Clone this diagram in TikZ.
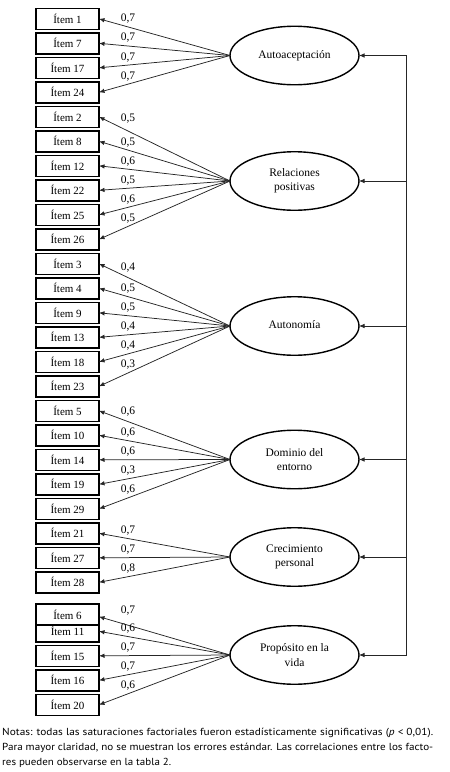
\documentclass[tikz,border=0pt]{standalone}
\usepackage{fontspec}
\setmainfont{Liberation Serif}
\newfontfamily\notefont{PT Sans}
\usetikzlibrary{shapes.geometric,arrows.meta}
\begin{document}
\begin{tikzpicture}[x=1pt,y=-1pt,
  itembox/.style={draw, line width=1.6pt, minimum width=63pt, minimum height=21pt,
    inner sep=0pt, outer sep=0pt, fill=white, font=\fontsize{11}{13}\selectfont},
  factor/.style={ellipse, draw, line width=1.4pt, minimum width=129pt, minimum height=58.5pt,
    inner sep=0pt, outer sep=0pt, align=center, font=\fontsize{11.5}{14.4}\selectfont},
  load/.style={draw=black!85, line width=0.75pt, -{Latex[length=5.5pt,width=4.5pt]}},
  lbl/.style={pos=0.779, yshift=8pt, inner sep=0pt, font=\fontsize{11.5}{13}\selectfont},
  corr/.style={draw=black!85, line width=0.75pt},
  notetext/.style={anchor=base west, inner sep=0pt, font=\notefont\fontsize{10.2}{15}\selectfont}]
\useasboundingbox (0,0) rectangle (450,772);

% items
\node[itembox] (i1)  at (67.5,18.8)  {Ítem 1};
\node[itembox] (i7)  at (67.5,43.3)  {Ítem 7};
\node[itembox] (i17) at (67.5,67.8)  {Ítem 17};
\node[itembox] (i24) at (67.5,92.3)  {Ítem 24};
\node[itembox] (i2)  at (67.5,116.8) {Ítem 2};
\node[itembox] (i8)  at (67.5,141.3) {Ítem 8};
\node[itembox] (i12) at (67.5,165.8) {Ítem 12};
\node[itembox] (i22) at (67.5,190.3) {Ítem 22};
\node[itembox] (i25) at (67.5,214.8) {Ítem 25};
\node[itembox] (i26) at (67.5,239.3) {Ítem 26};
\node[itembox] (i3)  at (67.5,263.8) {Ítem 3};
\node[itembox] (i4)  at (67.5,288.3) {Ítem 4};
\node[itembox] (i9)  at (67.5,312.8) {Ítem 9};
\node[itembox] (i13) at (67.5,337.3) {Ítem 13};
\node[itembox] (i18) at (67.5,361.8) {Ítem 18};
\node[itembox] (i23) at (67.5,386.3) {Ítem 23};
\node[itembox] (i5)  at (67.5,410.8) {Ítem 5};
\node[itembox] (i10) at (67.5,435.3) {Ítem 10};
\node[itembox] (i14) at (67.5,459.8) {Ítem 14};
\node[itembox] (i19) at (67.5,484.3) {Ítem 19};
\node[itembox] (i29) at (67.5,508.8) {Ítem 29};
\node[itembox] (i21) at (67.5,533.3) {Ítem 21};
\node[itembox] (i27) at (67.5,557.8) {Ítem 27};
\node[itembox] (i28) at (67.5,582.3) {Ítem 28};
\node[itembox] (i11) at (67.5,631.3) {Ítem 11};
\node[itembox] (i6)  at (67.5,614.7) {Ítem 6};
\node[itembox] (i15) at (67.5,655.8) {Ítem 15};
\node[itembox] (i16) at (67.5,680.3) {Ítem 16};
\node[itembox] (i20) at (67.5,704.8) {Ítem 20};

% factors
\node[factor] (f1) at (294.5,55.5) {\raisebox{3pt}{Autoaceptación}};
\node[factor] (f2) at (294.5,181)  {Relaciones\\positivas};
\node[factor] (f3) at (294.5,326)  {\raisebox{3pt}{Autonomía}};
\node[factor] (f4) at (294.5,459.5) {Dominio del\\entorno};
\node[factor] (f5) at (294.5,557)  {Crecimiento\\personal};
\node[factor] (f6) at (294.5,655)  {Propósito en la\\vida};

% loadings
\draw[load] (f1.west) -- node[lbl] {0,7} (i1.east);
\draw[load] (f1.west) -- node[lbl] {0,7} (i7.east);
\draw[load] (f1.west) -- node[lbl] {0,7} (i17.east);
\draw[load] (f1.west) -- node[lbl] {0,7} (i24.east);

\draw[load] (f2.west) -- node[lbl, yshift=4pt] {0,5} (i2.east);
\draw[load] (f2.west) -- node[lbl] {0,5} (i8.east);
\draw[load] (f2.west) -- node[lbl] {0,6} (i12.east);
\draw[load] (f2.west) -- node[lbl] {0,5} (i22.east);
\draw[load] (f2.west) -- node[lbl] {0,6} (i25.east);
\draw[load] (f2.west) -- node[lbl] {0,5} (i26.east);

\draw[load] (f3.west) -- node[lbl, yshift=2pt] {0,4} (i3.east);
\draw[load] (f3.west) -- node[lbl] {0,5} (i4.east);
\draw[load] (f3.west) -- node[lbl] {0,5} (i9.east);
\draw[load] (f3.west) -- node[lbl] {0,4} (i13.east);
\draw[load] (f3.west) -- node[lbl] {0,4} (i18.east);
\draw[load] (f3.west) -- node[lbl] {0,3} (i23.east);

\draw[load] (f4.west) -- node[lbl, yshift=2pt] {0,6} (i5.east);
\draw[load] (f4.west) -- node[lbl] {0,6} (i10.east);
\draw[load] (f4.west) -- node[lbl] {0,6} (i14.east);
\draw[load] (f4.west) -- node[lbl] {0,3} (i19.east);
\draw[load] (f4.west) -- node[lbl] {0,6} (i29.east);

\draw[load] (f5.west) -- node[lbl] {0,7} (i21.east);
\draw[load] (f5.west) -- node[lbl] {0,7} (i27.east);
\draw[load] (f5.west) -- node[lbl] {0,8} (i28.east);

\draw[load] (f6.west) -- node[lbl, yshift=7pt] {0,7} ([yshift=-2pt]i6.east);
\draw[load] (f6.west) -- node[lbl] {0,6} (i11.east);
\draw[load] (f6.west) -- node[lbl] {0,7} (i15.east);
\draw[load] (f6.west) -- node[lbl] {0,7} (i16.east);
\draw[load] (f6.west) -- node[lbl] {0,6} (i20.east);

% correlation bracket
\coordinate (r1) at (406.7,55.5);
\coordinate (r2) at (406.7,181);
\coordinate (r3) at (406.7,326);
\coordinate (r4) at (406.7,459.5);
\coordinate (r5) at (406.7,557);
\coordinate (r6) at (406.7,655);
\draw[corr] (r1) -- (r6);
\foreach \k in {1,...,6} {\draw[load] (r\k) -- (f\k.east);}

% notes
\node[notetext] (n1) at (2,735) {\resizebox{431pt}{\height}{Notas: todas las saturaciones factoriales fueron estadísticamente significativas (\textit{p} < 0,01).}};
\node[notetext] (n2) at (2,750) {\resizebox{431pt}{\height}{Para mayor claridad, no se muestran los errores estándar. Las correlaciones entre los facto-}};
\node[notetext] (n3) at (2,765) {\resizebox{169pt}{\height}{res pueden observarse en la tabla 2.}};
\end{tikzpicture}
\end{document}
